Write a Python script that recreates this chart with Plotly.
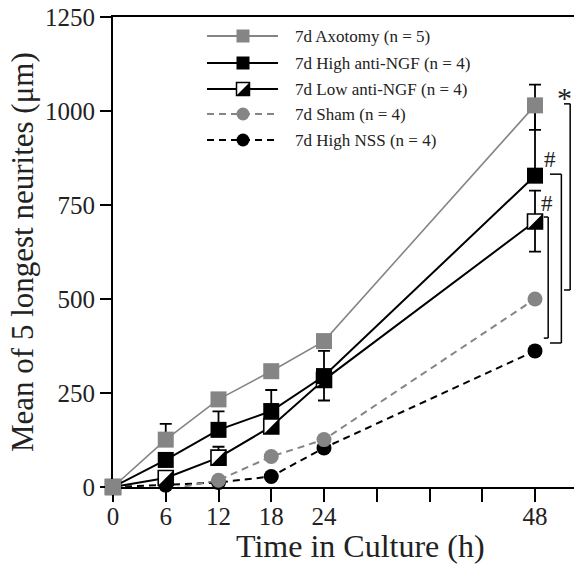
import plotly.graph_objects as go

# ---------------- data ----------------
hours = [0, 6, 12, 18, 24, 48]
axotomy = [0, 126, 233, 308, 388, 1015]
high_anti_ngf = [0, 72, 152, 202, 295, 828]
low_anti_ngf = [0, 24, 78, 161, 285, 706]
sham = [0, -8, 18, 81, 126, 500]
high_nss = [0, 5, 12, 28, 104, 362]

axotomy_err_up = [0, 42, 0, 0, 0, 55]
axotomy_err_down = [0, 0, 0, 0, 0, 65]
high_err_up = [0, 0, 49, 56, 67, 175]
high_err_down = [0, 0, 0, 0, 0, 0]
low_err_up = [0, 0, 29, 0, 0, 82]
low_err_down = [0, 0, 0, 0, 55, 80]

series_names = [
    "7d Axotomy (n = 5)",
    "7d High anti-NGF (n = 4)",
    "7d Low anti-NGF (n = 4)",
    "7d Sham (n = 4)",
    "7d High NSS (n = 4)",
]

x_tick_vals = [0, 6, 12, 18, 24, 30, 36, 42, 48]
x_tick_text = ["0", "6", "12", "18", "24", "", "", "", "48"]
y_tick_vals = [0, 250, 500, 750, 1000, 1250]
y_tick_text = ["0", "250", "500", "750", "1000", "1250"]

# ---------------- styling ----------------
GRAY = "#858585"
BLACK = "#000000"
FONT = "Liberation Serif"
TXT = "#222222"
DASH = "7px,5px"

W, H = 574, 567
ML, MR, MT, MB = 113, 0, 17, 80
PW, PH = W - ML - MR, H - MT - MB
X_MAX = 48 * PW / 422.0  # 48 h sits 422 px right of the origin

fig = go.Figure()

def err(up, down):
    return dict(type="data", symmetric=False, array=up, arrayminus=down,
                color=BLACK, thickness=1.8, width=6)

# drawing order: bottom -> top
fig.add_trace(go.Scatter(
    x=hours, y=high_nss, mode="lines+markers", name=series_names[4],
    line=dict(color=BLACK, width=2, dash=DASH),
    marker=dict(symbol="circle", size=15, color=BLACK),
    cliponaxis=False, showlegend=False))
fig.add_trace(go.Scatter(
    x=hours, y=sham, mode="lines+markers", name=series_names[3],
    line=dict(color=GRAY, width=2, dash=DASH),
    marker=dict(symbol="circle", size=15, color=GRAY),
    cliponaxis=False, showlegend=False))
fig.add_trace(go.Scatter(
    x=hours, y=low_anti_ngf, mode="lines+markers", name=series_names[2],
    line=dict(color=BLACK, width=2),
    marker=dict(symbol="square", size=15, color="white",
                line=dict(color=BLACK, width=1.6)),
    error_y=err(low_err_up, low_err_down),
    cliponaxis=False, showlegend=False))
fig.add_trace(go.Scatter(
    x=hours, y=high_anti_ngf, mode="lines+markers", name=series_names[1],
    line=dict(color=BLACK, width=2),
    marker=dict(symbol="square", size=16, color=BLACK),
    error_y=err(high_err_up, high_err_down),
    cliponaxis=False, showlegend=False))
fig.add_trace(go.Scatter(
    x=hours, y=axotomy, mode="lines+markers", name=series_names[0],
    line=dict(color=GRAY, width=1.6),
    marker=dict(symbol="square", size=16, color=GRAY),
    error_y=err(axotomy_err_up, axotomy_err_down),
    cliponaxis=False, showlegend=False))

shapes = []
# half-filled (lower-right black) squares for Low anti-NGF;
# the first point is hidden under the Axotomy marker
R = 7.5
tri = f"M {R},{-R} L {R},{R} L {-R},{-R} Z"
for xv, yv in list(zip(hours, low_anti_ngf))[1:]:
    shapes.append(dict(type="path", xref="x", yref="y", xsizemode="pixel",
                       ysizemode="pixel", xanchor=xv, yanchor=yv, path=tri,
                       fillcolor=BLACK, line=dict(width=0), layer="above"))

# significance brackets
def bracket(xv, xt, y0, y1):
    out = []
    for a, b, c, d in [(xv, y0, xv, y1), (xt, y0, xv, y0), (xt, y1, xv, y1)]:
        out.append(dict(type="line", xref="x", yref="y", x0=a, y0=b, x1=c, y1=d,
                        line=dict(color=BLACK, width=1.5), layer="above"))
    return out

shapes += bracket(52.0, 51.3, 524, 1019)
shapes += bracket(51.0, 49.7, 383, 832)
shapes += bracket(49.5, 49.0, 396, 718)

# ---------------- custom legend (pixel overlay axes) ----------------
legend_y = [36, 63, 89, 114, 140]
leg_x0, leg_x1, leg_xm, leg_tx = 207, 278, 243, 293
leg_styles = [
    dict(lc=GRAY, dash="solid", sym="square", mc=GRAY, ml=GRAY),
    dict(lc=BLACK, dash="solid", sym="square", mc=BLACK, ml=BLACK),
    dict(lc=BLACK, dash="solid", sym="square", mc="white", ml=BLACK),
    dict(lc=GRAY, dash=DASH, sym="circle", mc=GRAY, ml=GRAY),
    dict(lc=BLACK, dash=DASH, sym="circle", mc=BLACK, ml=BLACK),
]
annotations = []
for name, ly, st in zip(series_names, legend_y, leg_styles):
    fig.add_trace(go.Scatter(
        x=[leg_x0, leg_x1], y=[ly, ly], mode="lines", xaxis="x2", yaxis="y2",
        line=dict(color=st["lc"], width=1.8, dash=st["dash"]),
        cliponaxis=False, showlegend=False, hoverinfo="skip"))
    fig.add_trace(go.Scatter(
        x=[leg_xm], y=[ly], mode="markers", xaxis="x2", yaxis="y2",
        marker=dict(symbol=st["sym"], size=13, color=st["mc"],
                    line=dict(color=st["ml"], width=1.5 if st["mc"] == "white" else 0)),
        cliponaxis=False, showlegend=False, hoverinfo="skip"))
    annotations.append(dict(x=leg_tx, y=ly, xref="x2", yref="y2", text=name,
                            showarrow=False, xanchor="left", yanchor="middle",
                            font=dict(family=FONT, size=17, color=TXT)))
Rl = 6
tri_l = f"M {Rl},{-Rl} L {Rl},{Rl} L {-Rl},{-Rl} Z"
shapes.append(dict(type="path", xref="x2", yref="y2", xsizemode="pixel",
                   ysizemode="pixel", xanchor=leg_xm, yanchor=legend_y[2],
                   path=tri_l, fillcolor=BLACK, line=dict(width=0), layer="above"))

# significance marks
annotations += [
    dict(x=51.4, y=1035, xref="x", yref="y", text="*", showarrow=False,
         font=dict(family=FONT, size=30, color=TXT), xanchor="center", yanchor="middle"),
    dict(x=49.7, y=872, xref="x", yref="y", text="#", showarrow=False,
         font=dict(family=FONT, size=23, color=TXT), xanchor="center", yanchor="middle"),
    dict(x=49.4, y=755, xref="x", yref="y", text="#", showarrow=False,
         font=dict(family=FONT, size=23, color=TXT), xanchor="center", yanchor="middle"),
]

# axis titles
annotations += [
    dict(x=(360 - ML) / PW, y=(MT + PH - 546) / PH, xref="paper", yref="paper",
         text="Time in Culture (h)", showarrow=False, xanchor="center", yanchor="middle",
         font=dict(family=FONT, size=32, color=TXT)),
    dict(x=(22 - ML) / PW, y=(MT + PH - 252) / PH, xref="paper", yref="paper",
         text="Mean of 5 longest neurites (μm)", showarrow=False, textangle=-90,
         xanchor="center", yanchor="middle", font=dict(family=FONT, size=31, color=TXT)),
]

fig.update_layout(
    width=W, height=H,
    margin=dict(l=ML, r=MR, t=MT, b=MB, pad=0),
    paper_bgcolor="white", plot_bgcolor="white",
    font=dict(family=FONT, color=TXT),
    xaxis=dict(range=[0, X_MAX], tickvals=x_tick_vals, ticktext=x_tick_text,
               ticks="outside", ticklen=13, tickwidth=2, tickcolor=BLACK,
               ticklabelstandoff=-7,
               showline=True, linecolor=BLACK, linewidth=2, mirror=True,
               showgrid=False, zeroline=False, layer="below traces",
               tickfont=dict(family=FONT, size=25, color=TXT)),
    yaxis=dict(range=[0, 1250], tickvals=y_tick_vals, ticktext=y_tick_text,
               ticks="outside", ticklen=11, tickwidth=2, tickcolor=BLACK,
               showline=True, linecolor=BLACK, linewidth=2,
               showgrid=False, zeroline=False, layer="below traces",
               tickfont=dict(family=FONT, size=25, color=TXT)),
    xaxis2=dict(overlaying="x", range=[ML, W - MR], visible=False),
    yaxis2=dict(overlaying="y", range=[MT + PH, MT], visible=False),
    shapes=shapes,
    annotations=annotations,
)

fig.write_html("out.html")
